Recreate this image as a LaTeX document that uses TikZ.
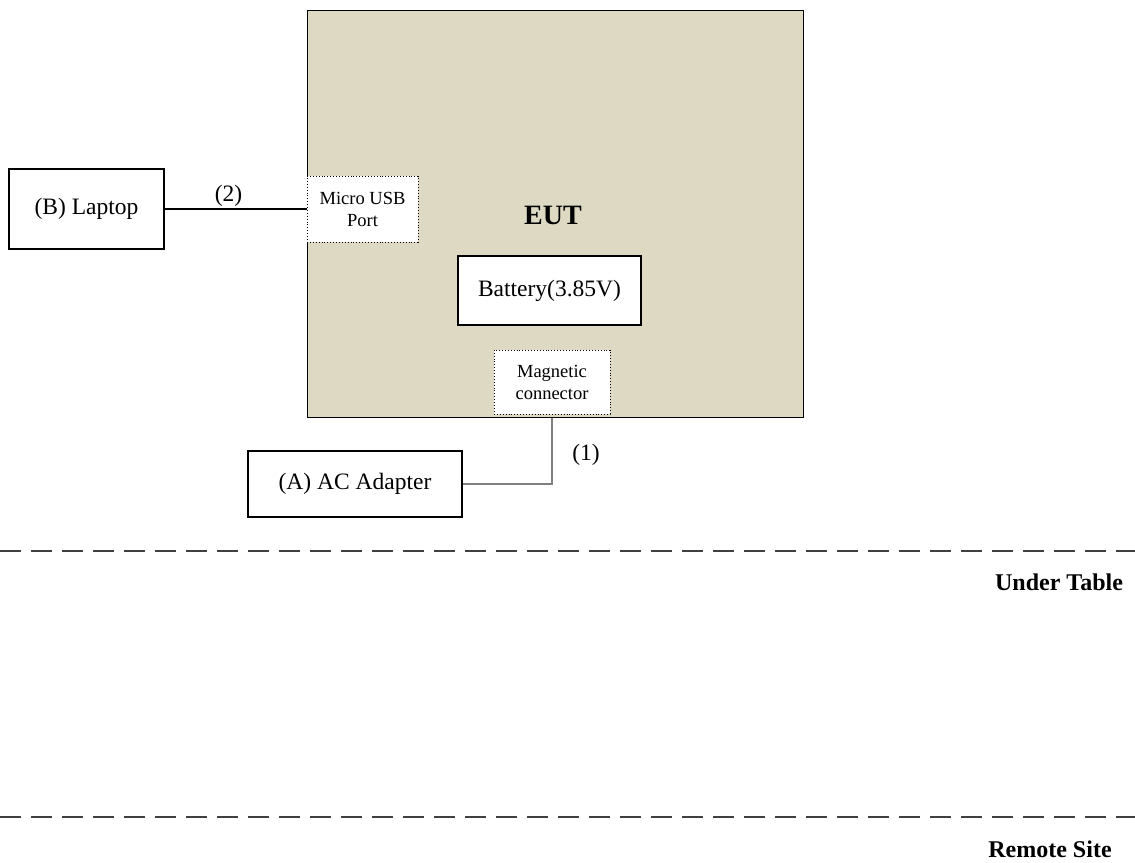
\documentclass[tikz,border=0pt]{standalone}
\usepackage{fontspec}
\setmainfont{Liberation Serif}
\usepackage{xcolor}
\definecolor{euttan}{HTML}{DDD9C3}
\definecolor{cablegray}{HTML}{808080}
\usetikzlibrary{positioning}

\tikzset{
    unitbox/.style={draw, line width=1.2pt, fill=white, align=center, anchor=center, font=\fontsize{23.5}{27}\selectfont},
    portbox/.style={draw, dotted, line width=0.9pt, fill=white, align=center, anchor=center, font=\fontsize{18.5}{22}\selectfont},
    tag/.style={align=center, anchor=center, font=\fontsize{23.5}{27}\selectfont},
    sitetag/.style={align=center, anchor=center, font=\fontsize{24}{27}\selectfont\bfseries},
    sitedash/.style={draw=black!75, line width=1.3pt, dash pattern=on 21pt off 10pt},
}

\begin{document}
\begin{tikzpicture}[x=1pt, y=-1pt]
        \useasboundingbox (0, 0) rectangle (1135, 862);

        % equipment under test
        \node[draw, line width=1.2pt, fill=euttan, minimum width=496pt, minimum height=407pt, anchor=north west] (eut) at (307, 10) {};
        \node[tag, font=\fontsize{28}{30}\selectfont\bfseries] (euttext) at (553, 215) {EUT};

        \node[unitbox, minimum width=183pt, minimum height=69pt] (battery) at (549.5, 290.5) {Battery(3.85V)};

        \node[portbox, minimum width=111pt, minimum height=66pt] (usb) at (362.5, 209) {Micro USB\\Port};
        \node[portbox, minimum width=116pt, minimum height=64pt] (mag) at (552, 382) {Magnetic\\connector};

        % support units
        \node[unitbox, minimum width=155pt, minimum height=80pt] (laptop) at (86.5, 209) {(B) Laptop};
        \node[unitbox, minimum width=214pt, minimum height=66pt] (adapter) at (355, 484) {(A) AC Adapter};

        % cables
        \draw[line width=1.3pt] (laptop.east) -- (laptop.east -| usb.west) node[pos=0.45, anchor=south, yshift=13pt, tag] {(2)};
        \draw[line width=2.6pt, cablegray] (eut.south -| mag.south) |- (adapter.east);
        \node[tag] (cableone) at (586, 455) {(1)};

        % table levels
        \coordinate (tableL) at (0, 551);
        \coordinate (tableR) at (1135, 551);
        \draw[sitedash] (tableL) -- (tableR);
        \node[sitetag] (undertable) at (1059, 582) {Under Table};

        \coordinate (remoteL) at (0, 817);
        \coordinate (remoteR) at (1135, 817);
        \draw[sitedash] (remoteL) -- (remoteR);
        \node[sitetag] (remotesite) at (1050, 849) {Remote Site};

    \end{tikzpicture}
\end{document}
